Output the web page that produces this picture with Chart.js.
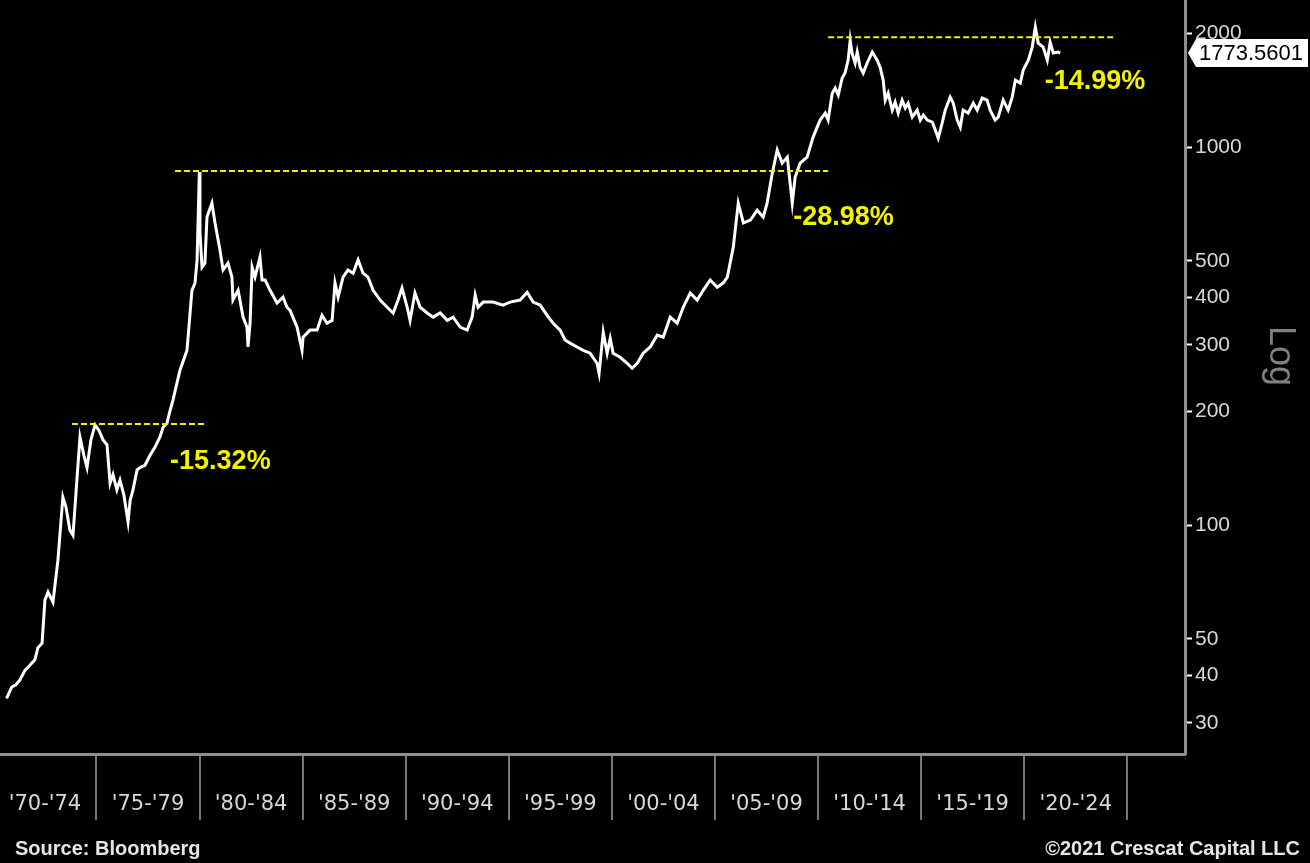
<!DOCTYPE html>
<html>
<head>
<meta charset="utf-8">
<script src="https://cdn.jsdelivr.net/npm/chart.js@4.4.1/dist/chart.umd.min.js"></script>
<style>
    html, body { margin: 0; padding: 0; background: #000; }
    #wrap { width: 1310px; height: 863px; position: relative; }
</style>
</head>
<body>
<div id="wrap"><canvas id="goldChart"></canvas></div>
<script>
// gold price (USD/oz), decimal years
const dates = [
    1970.64, 1970.89, 1971.09, 1971.28, 1971.53, 1971.77, 1972.01, 1972.16, 1972.36, 1972.50,
    1972.65, 1972.89, 1973.13, 1973.37, 1973.52, 1973.71, 1973.86, 1974.05, 1974.20, 1974.39,
    1974.54, 1974.73, 1974.93, 1975.12, 1975.32, 1975.51, 1975.66, 1975.80, 1975.99, 1976.14,
    1976.33, 1976.53, 1976.63, 1976.77, 1976.97, 1977.11, 1977.35, 1977.60, 1977.84, 1978.08,
    1978.23, 1978.42, 1978.57, 1978.71, 1979.05, 1979.39, 1979.63, 1979.78, 1979.88, 1979.99,
    1980.02, 1980.12, 1980.26, 1980.36, 1980.60, 1980.75, 1980.99, 1981.14, 1981.38, 1981.57,
    1981.62, 1981.87, 1982.11, 1982.30, 1982.35, 1982.45, 1982.55, 1982.69, 1982.93, 1983.03,
    1983.18, 1983.42, 1983.76, 1984.05, 1984.24, 1984.39, 1984.73, 1984.97, 1985.02, 1985.36,
    1985.70, 1985.94, 1986.18, 1986.43, 1986.57, 1986.72, 1986.96, 1987.20, 1987.45, 1987.69,
    1987.93, 1988.17, 1988.42, 1988.76, 1989.10, 1989.39, 1989.63, 1989.82, 1990.07, 1990.21,
    1990.45, 1990.70, 1991.04, 1991.33, 1991.67, 1992.01, 1992.30, 1992.64, 1992.98, 1993.22,
    1993.37, 1993.51, 1993.76, 1994.24, 1994.72, 1995.06, 1995.55, 1995.89, 1996.18, 1996.52,
    1996.86, 1997.15, 1997.49, 1997.73, 1997.97, 1998.31, 1998.61, 1998.94, 1999.28, 1999.38,
    1999.58, 1999.77, 1999.92, 2000.06, 2000.40, 2000.74, 2000.98, 2001.23, 2001.52, 2001.86,
    2002.20, 2002.49, 2002.83, 2003.17, 2003.46, 2003.80, 2004.14, 2004.43, 2004.77, 2005.11,
    2005.40, 2005.60, 2005.89, 2006.13, 2006.38, 2006.72, 2007.05, 2007.34, 2007.53, 2007.78,
    2008.02, 2008.26, 2008.51, 2008.75, 2008.89, 2009.13, 2009.47, 2009.76, 2010.10, 2010.35,
    2010.49, 2010.69, 2010.83, 2010.98, 2011.17, 2011.31, 2011.46, 2011.56, 2011.65, 2011.80,
    2011.90, 2012.04, 2012.19, 2012.38, 2012.63, 2012.87, 2013.01, 2013.16, 2013.26, 2013.40,
    2013.60, 2013.74, 2013.89, 2014.08, 2014.23, 2014.37, 2014.57, 2014.81, 2014.96, 2015.11,
    2015.30, 2015.54, 2015.69, 2015.83, 2016.02, 2016.17, 2016.41, 2016.56, 2016.75, 2016.90,
    2017.04, 2017.28, 2017.53, 2017.72, 2017.96, 2018.20, 2018.35, 2018.59, 2018.74, 2018.98,
    2019.22, 2019.42, 2019.57, 2019.81, 2019.95, 2020.20, 2020.39, 2020.54, 2020.68, 2020.92,
    2021.12, 2021.26, 2021.41, 2021.65, 2021.75
];
const prices = [
    34.8, 37.3, 37.8, 38.9, 41.3, 42.6, 44.0, 47.4, 48.7, 63.3,
    66.5, 62.5, 80.8, 118.6, 111.6, 97.0, 94.0, 131.5, 171, 153,
    142, 168, 184, 178, 168, 163, 129, 136, 124, 131.5,
    120, 102, 116, 124, 140, 142, 144, 153, 161, 171,
    181.5, 186, 201, 214, 257, 290, 418, 437, 503, 859,
    592, 481, 493, 653, 711, 630, 534, 473, 493, 453,
    394, 418, 355, 334, 296, 342, 481, 453, 512, 445,
    445, 418, 387, 401, 377, 370, 334, 290, 314, 328,
    328, 359, 342, 348, 437, 401, 453, 473, 464, 503,
    464, 453, 418, 394, 377, 364, 394, 424, 377, 348,
    411, 377, 364, 355, 364, 348, 355, 334, 328, 355,
    406, 377, 389, 389, 382, 389, 394, 413, 389, 382,
    359, 342, 328, 309, 303, 296, 290, 285, 268, 252,
    324, 285, 312, 285, 278, 268, 260, 268, 285, 296,
    318, 314, 355, 342, 377, 411, 394, 418, 445, 426,
    437, 453, 544, 711, 630, 641, 681, 653, 711, 853,
    982, 907, 941, 711, 833, 907, 941, 1063, 1179, 1230,
    1179, 1389, 1432, 1373, 1523, 1570, 1699, 1919, 1773, 1668,
    1784, 1627, 1570, 1668, 1784, 1699, 1627, 1504, 1331, 1389,
    1253, 1315, 1230, 1331, 1269, 1307, 1200, 1253, 1179, 1215,
    1179, 1165, 1109, 1056, 1157, 1253, 1356, 1307, 1179, 1129,
    1253, 1230, 1307, 1253, 1348, 1331, 1253, 1179, 1200, 1331,
    1253, 1356, 1504, 1477, 1598, 1699, 1839, 2077, 1884, 1839,
    1699, 1895, 1773, 1784, 1773.5601
];

const periodLabels = ["'70-'74", "'75-'79", "'80-'84", "'85-'89", "'90-'94", "'95-'99",
                      "'00-'04", "'05-'09", "'10-'14", "'15-'19", "'20-'24"];
const periodMids = [1972.5, 1977.5, 1982.5, 1987.5, 1992.5, 1997.5, 2002.5, 2007.5, 2012.5, 2017.5, 2022.5];
const periodBounds = [1975, 1980, 1985, 1990, 1995, 2000, 2005, 2010, 2015, 2020, 2025];
const yTicks = [30, 40, 50, 100, 200, 300, 400, 500, 1000, 2000];

// previous highs (dashed) and the drawdowns written next to them
const peakLevels = [185, 864, 1954];
const peakFrom = [1973.81, 1978.81, 2010.49];
const peakTo = [1980.26, 2010.49, 2024.42];
const drawdownLabels = ['-15.32%', '-28.98%', '-14.99%'];
const drawdownYear = [1978.57, 2008.8, 2021.0];
const drawdownPrice = [147, 653, 1495];

const lastValue = prices[prices.length - 1];

Chart.defaults.font.family = '"Liberation Sans", Arial, sans-serif';

const overlayPlugin = {
    id: 'overlay',
    afterDraw(chart) {
        const ctx = chart.ctx;
        const xs = chart.scales.x, ys = chart.scales.y;
        ctx.save();
        ctx.textBaseline = 'middle';
        ctx.textAlign = 'left';

        ctx.font = 'bold 27px "Liberation Sans", Arial, sans-serif';
        ctx.fillStyle = '#f2f200';
        drawdownLabels.forEach(function(txt, i){
            ctx.fillText(txt, xs.getPixelForValue(drawdownYear[i]), ys.getPixelForValue(drawdownPrice[i]));
        });

        // last price tag on the axis
        let ly = ys.getPixelForValue(lastValue);
        let ax = chart.chartArea.right + 3;
        ctx.font = '22px "Liberation Sans", Arial, sans-serif';
        let label = lastValue.toFixed(4);
        let w = ctx.measureText(label).width + 8;
        ctx.beginPath();
        ctx.moveTo(ax, ly);
        ctx.lineTo(ax + 8, ly - 14);
        ctx.lineTo(ax + 8 + w, ly - 14);
        ctx.lineTo(ax + 8 + w, ly + 14);
        ctx.lineTo(ax + 8, ly + 14);
        ctx.closePath();
        ctx.fillStyle = '#fff';
        ctx.fill();
        ctx.fillStyle = '#000';
        ctx.fillText(label, ax + 11, ly + 1);

        // axis caption, a little above the middle like the original
        ctx.save();
        ctx.translate(ys.right - 30, 356);
        ctx.rotate(Math.PI / 2);
        ctx.textAlign = 'center';
        ctx.font = '36px "Liberation Sans", Arial, sans-serif';
        ctx.fillStyle = '#808080';
        ctx.fillText('Log', 0, 0);
        ctx.restore();

        ctx.font = 'bold 20px "Liberation Sans", Arial, sans-serif';
        ctx.fillStyle = '#e6e6e6';
        ctx.fillText('Source: Bloomberg', 15, 849);
        ctx.textAlign = 'right';
        ctx.fillText('©2021 Crescat Capital LLC', 1300, 849);
        ctx.restore();
    }
};

const datasets = [{
    data: dates.map((d, i) => ({x: d, y: prices[i]})),
    borderColor: '#ffffff',
    borderWidth: 3,
    pointRadius: 0,
    tension: 0,
    order: 2
}];
peakLevels.forEach(function(lv, i){
    datasets.push({
        data: [{x: peakFrom[i], y: lv}, {x: peakTo[i], y: lv}],
        borderColor: '#f0f000',
        borderDash: [6, 3],
        borderWidth: 2,
        pointRadius: 0,
        order: 1
    });
});

new Chart(document.getElementById('goldChart'), {
    type: 'line',
    data: { datasets: datasets },
    options: {
        responsive: true,
        maintainAspectRatio: false,
        animation: false,
        devicePixelRatio: 1,
        layout: { padding: { left: 0, right: 0, top: 0, bottom: 43 } },
        plugins: { legend: { display: false }, tooltip: { enabled: false } },
        scales: {
            x: {
                type: 'linear',
                min: 1970.32,
                max: 2027.8,
                afterBuildTicks: s => { s.ticks = periodBounds.concat(periodMids).sort((a, b) => a - b).map(v => ({value: v})); },
                afterFit: s => { s.height = 66; s.paddingLeft = 0; s.paddingRight = 0; },
                ticks: {
                    color: '#d8d8d8',
                    font: { family: '"DejaVu Sans", sans-serif', size: 21 },
                    padding: -28,
                    maxRotation: 0,
                    autoSkip: false,
                    callback: function(v){
                        let i = periodMids.indexOf(v);
                        return i >= 0 ? periodLabels[i] : '';
                    }
                },
                grid: {
                    drawOnChartArea: false,
                    tickLength: 66,
                    lineWidth: 2,
                    color: c => (c.tick && periodBounds.includes(c.tick.value)) ? '#777777' : 'rgba(0,0,0,0)'
                },
                border: { color: '#8f8f8f', width: 3 }
            },
            y: {
                type: 'logarithmic',
                position: 'right',
                min: 24.8,
                max: 2450,
                afterBuildTicks: s => { s.ticks = yTicks.map(v => ({value: v})); },
                afterFit: s => { s.width = 125; s.paddingTop = 0; s.paddingBottom = 0; },
                ticks: {
                    color: '#d8d8d8',
                    font: { size: 21 },
                    padding: 3,
                    callback: v => String(v)
                },
                grid: { drawOnChartArea: false, tickLength: 7, tickColor: '#ffffff', tickWidth: 2 },
                border: { color: '#8f8f8f', width: 3 }
            }
        }
    },
    plugins: [overlayPlugin]
});
</script>
</body>
</html>
